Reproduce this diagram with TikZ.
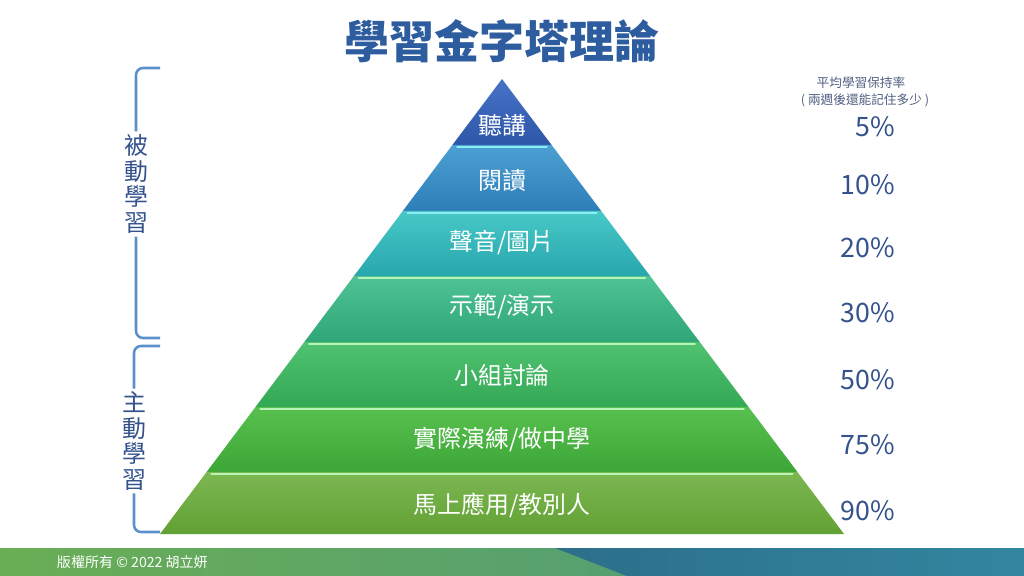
\documentclass[tikz,border=0pt]{standalone}
\usepackage{fontspec}
\setmainfont{Noto Sans CJK TC}
\usepackage{xcolor}
\usepackage{tikz}
\usetikzlibrary{calc,positioning}
\definecolor{azultitulo}{RGB}{45,92,159}
\definecolor{azultaxa}{RGB}{52,82,140}
\definecolor{azulcolchete}{RGB}{92,144,205}
\definecolor{cinzaazul}{RGB}{80,96,130}
\definecolor{c1a}{RGB}{70,114,198}
\definecolor{c1b}{RGB}{46,86,168}
\definecolor{c2a}{RGB}{76,160,210}
\definecolor{c2b}{RGB}{46,125,184}
\definecolor{c3a}{RGB}{72,200,198}
\definecolor{c3b}{RGB}{39,166,174}
\definecolor{c4a}{RGB}{78,194,148}
\definecolor{c4b}{RGB}{47,166,121}
\definecolor{c5a}{RGB}{80,194,113}
\definecolor{c5b}{RGB}{51,168,85}
\definecolor{c6a}{RGB}{88,192,79}
\definecolor{c6b}{RGB}{60,166,54}
\definecolor{c7a}{RGB}{124,183,82}
\definecolor{c7b}{RGB}{98,161,52}
\definecolor{brilhociano}{RGB}{140,238,244}
\definecolor{brilhoverde}{RGB}{182,245,182}
\definecolor{rodapeverde}{RGB}{106,174,84}
\definecolor{rodapeteal}{RGB}{72,150,132}
\definecolor{rodapeazul}{RGB}{44,111,138}
\definecolor{rodapeazulclaro}{RGB}{51,134,160}
\tikzset{
  titulo/.style={font=\fontsize{32}{36}\selectfont\bfseries,text=azultitulo},
  camada/.style={font=\fontsize{17}{20}\selectfont,text=white},
  taxa/.style={font=\fontsize{19}{23}\selectfont,text=azultaxa,anchor=east,
    inner sep=0pt},
  cabec/.style={font=\fontsize{9}{11}\selectfont,text=cinzaazul},
  lado/.style={font=\fontsize{17}{18.2}\selectfont,text=azultaxa,align=center,
    inner sep=2pt},
  colchete/.style={azulcolchete,line width=1.8pt,rounded corners=5pt},
  brilho/.style={line width=2pt,line cap=round},
  rodape/.style={font=\fontsize{10}{12}\selectfont,text=white,anchor=west}
}
\begin{document}
\begin{tikzpicture}[x=0.025cm,y=-0.025cm]
\useasboundingbox (0,0) rectangle (1024,576);
\fill[white] (0,0) rectangle (1024,576);
% piramide
\coordinate (topo) at (502,79);
\coordinate (baseesq) at (160,534);
\coordinate (basedir) at (844,534);
\foreach \ya/\yb/\ct/\cb in {79/145/c1a/c1b,145/211/c2a/c2b,211/276/c3a/c3b,
  276/342/c4a/c4b,342/407/c5a/c5b,407/472/c6a/c6b,472/534/c7a/c7b}{
  \shade[top color=\ct,bottom color=\cb]
    ($(topo)!{(\ya-79)/455}!(baseesq)$) -- ($(topo)!{(\yb-79)/455}!(baseesq)$)
    -- ($(topo)!{(\yb-79)/455}!(basedir)$) -- ($(topo)!{(\ya-79)/455}!(basedir)$) -- cycle;
}
\foreach \y/\cor in {145/brilhociano,211/brilhociano,276/brilhoverde,342/brilhoverde,
  407/brilhoverde,472/brilhoverde}{
  \draw[brilho,\cor] ($(topo)!{(\y-79)/455}!(baseesq)+(5,2)$)
    -- ($(topo)!{(\y-79)/455}!(basedir)+(-5,2)$);
}
% titulo e rotulos
\node[titulo] (tit) at (502,41) {學習金字塔理論};
\node[camada] (l1) at (502,125) {聽講};
\node[camada] (l2) at (502,180) {閱讀};
\node[camada] (l3) at (502,243) {聲音/圖片};
\node[camada] (l4) at (502,307) {示範/演示};
\node[camada] (l5) at (502,375) {小組討論};
\node[camada] (l6) at (502,440) {實際演練/做中學};
\node[camada] (l7) at (502,505) {馬上應用/教別人};
% taxas
\node[cabec] (h1) at (861,83) {平均學習保持率};
\node[cabec] (h2) at (865,100) {( 兩週後還能記住多少 )};
\node[taxa] (p1) at (895,127) {5\%};
\node[taxa] (p2) at (895,185) {10\%};
\node[taxa] (p3) at (895,248) {20\%};
\node[taxa] (p4) at (895,313) {30\%};
\node[taxa] (p5) at (895,380) {50\%};
\node[taxa] (p6) at (895,445) {75\%};
\node[taxa] (p7) at (895,511) {90\%};
% colchetes
\node[lado] (passivo) at (136,184) {被\\動\\學\\習};
\node[lado] (ativo) at (134,441) {主\\動\\學\\習};
\draw[colchete] (passivo.north) -- (passivo.north |- 0,68) -- (160,68);
\draw[colchete] (passivo.south) -- (passivo.south |- 0,338) -- (160,338);
\draw[colchete] (ativo.north) -- (ativo.north |- 0,346) -- (160,346);
\draw[colchete] (ativo.south) -- (ativo.south |- 0,532) -- (160,532);
% rodape
\shade[left color=rodapeverde,right color=rodapeteal] (0,548) rectangle (1024,576);
\shade[left color=rodapeazul,right color=rodapeazulclaro]
  (555,548) -- (1024,548) -- (1024,576) -- (627,576) -- cycle;
\node[rodape] (copy) at (52,562) {版權所有 © 2022 胡立妍};
\end{tikzpicture}
\end{document}
